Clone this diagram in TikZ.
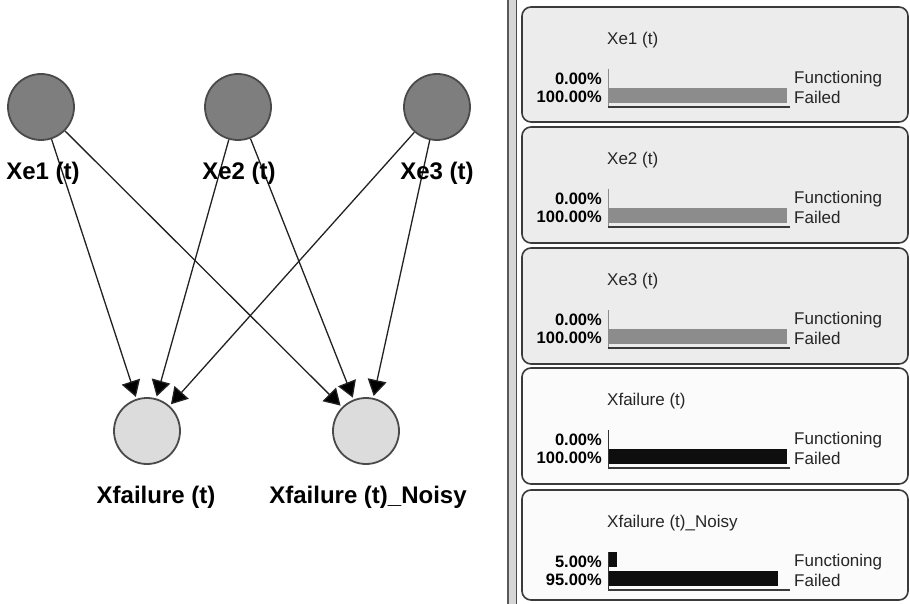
\documentclass[tikz,border=0pt]{standalone}
\usepackage{fontspec}
\setmainfont{Liberation Sans}
\usetikzlibrary{arrows.meta}

\definecolor{parentfill}{HTML}{7E7E7E}
\definecolor{childfill}{HTML}{DCDCDC}
\definecolor{circleedge}{HTML}{4A4A4A}
\definecolor{edgecol}{HTML}{222222}
\definecolor{panelgray}{HTML}{ECECEC}
\definecolor{panelwhite}{HTML}{FBFBFB}
\definecolor{paneledge}{HTML}{3A3A3A}
\definecolor{bargray}{HTML}{8C8C8C}
\definecolor{barblack}{HTML}{0E0E0E}
\definecolor{splitfill}{HTML}{D6D6D6}

% One state monitor: #1 name prefix, #2 top y, #3 title,
% #4/#5 percentages, #6/#7 bar lengths, #8 bar colour, #9 axis colour
\newcommand\statemonitor[9]{%
  \begin{scope}[shift={(0,#2)}]
    \node[paneltitle, anchor=west] (#1title) at (607,33) {#3};
    \node[pct, anchor=east] (#1pa) at (602,72) {#4};
    \node[pct, anchor=east] (#1pb) at (602,90) {#5};
    \node[statelabel, anchor=west] (#1sa) at (794,72) {Functioning};
    \node[statelabel, anchor=west] (#1sb) at (794,90) {Failed};
    \fill[#8] (608,62) rectangle ++(#6,15);
    \fill[#8] (608,81) rectangle ++(#7,15);
    \draw[#9, line width=0.8pt] (608.5,62) -- (608.5,100);
    \draw[paneledge, line width=1.3pt] (608,100) -- (790,100);
  \end{scope}}

\begin{document}
\begin{tikzpicture}[x=1pt,y=-1pt,
  parent/.style={circle, draw=circleedge, line width=1.8pt, fill=parentfill,
    minimum size=66pt, inner sep=0pt},
  child/.style={circle, draw=circleedge, line width=1.8pt, fill=childfill,
    minimum size=66pt, inner sep=0pt},
  nodelabel/.style={font=\fontsize{24}{28}\selectfont\bfseries, inner sep=0pt},
  influence/.style={line width=1.3pt, draw=edgecol,
    -{Triangle[length=16pt,width=19pt,fill=black]}, shorten >=2pt},
  panel/.style={draw=paneledge, line width=1.6pt, rounded corners=9pt},
  paneltitle/.style={font=\fontsize{17}{20}\selectfont, inner sep=0pt, text=black!85},
  pct/.style={font=\fontsize{16.5}{19}\selectfont\bfseries, inner sep=0pt},
  statelabel/.style={font=\fontsize{17}{20}\selectfont, inner sep=0pt, text=black!85}]

\useasboundingbox (0,0) rectangle (910,604);
\fill[white] (0,0) rectangle (910,604);

% ---- network ----
\node[parent] (e1) at (41,107) {};
\node[parent] (e2) at (238,107) {};
\node[parent] (e3) at (437,107) {};
\node[child] (f) at (147,431) {};
\node[child] (fn) at (366,431) {};

\draw[influence] (e1) -- (f);
\draw[influence] (e1) -- (fn);
\draw[influence] (e2) -- (f);
\draw[influence] (e2) -- (fn);
\draw[influence] (e3) -- (f);
\draw[influence] (e3) -- (fn);

\node[nodelabel] (le1) at (43,173) {Xe1 (t)};
\node[nodelabel] (le2) at (239,173) {Xe2 (t)};
\node[nodelabel] (le3) at (437,173) {Xe3 (t)};
\node[nodelabel] (lf) at (156,497) {Xfailure (t)};
\node[nodelabel] (lfn) at (368,497) {Xfailure (t)\_Noisy};

% ---- splitter between the two panes ----
\fill[splitfill] (508,0) rectangle (516.5,604);
\draw[black!65, line width=1.6pt] (508,0) -- (508,604);
\draw[black!70, line width=1pt] (516.5,0) -- (516.5,604);

% ---- monitors ----
\draw[panel, fill=panelgray]  (522,7)   rectangle (908,122);
\draw[panel, fill=panelgray]  (522,127) rectangle (908,243);
\draw[panel, fill=panelgray]  (522,248) rectangle (908,364);
\draw[panel, fill=panelwhite] (522,368) rectangle (908,484);
\draw[panel, fill=panelwhite] (522,490) rectangle (908,600);

\statemonitor{ma}{7}{Xe1 (t)}{0.00\%}{100.00\%}{0}{179}{bargray}{black!45}
\statemonitor{mb}{127}{Xe2 (t)}{0.00\%}{100.00\%}{0}{179}{bargray}{black!45}
\statemonitor{mc}{248}{Xe3 (t)}{0.00\%}{100.00\%}{0}{179}{bargray}{black!45}
\statemonitor{md}{368}{Xfailure (t)}{0.00\%}{100.00\%}{0}{179}{barblack}{black!80}
\statemonitor{me}{490}{Xfailure (t)\_Noisy}{5.00\%}{95.00\%}{9}{170}{barblack}{black!80}

\end{tikzpicture}
\end{document}
